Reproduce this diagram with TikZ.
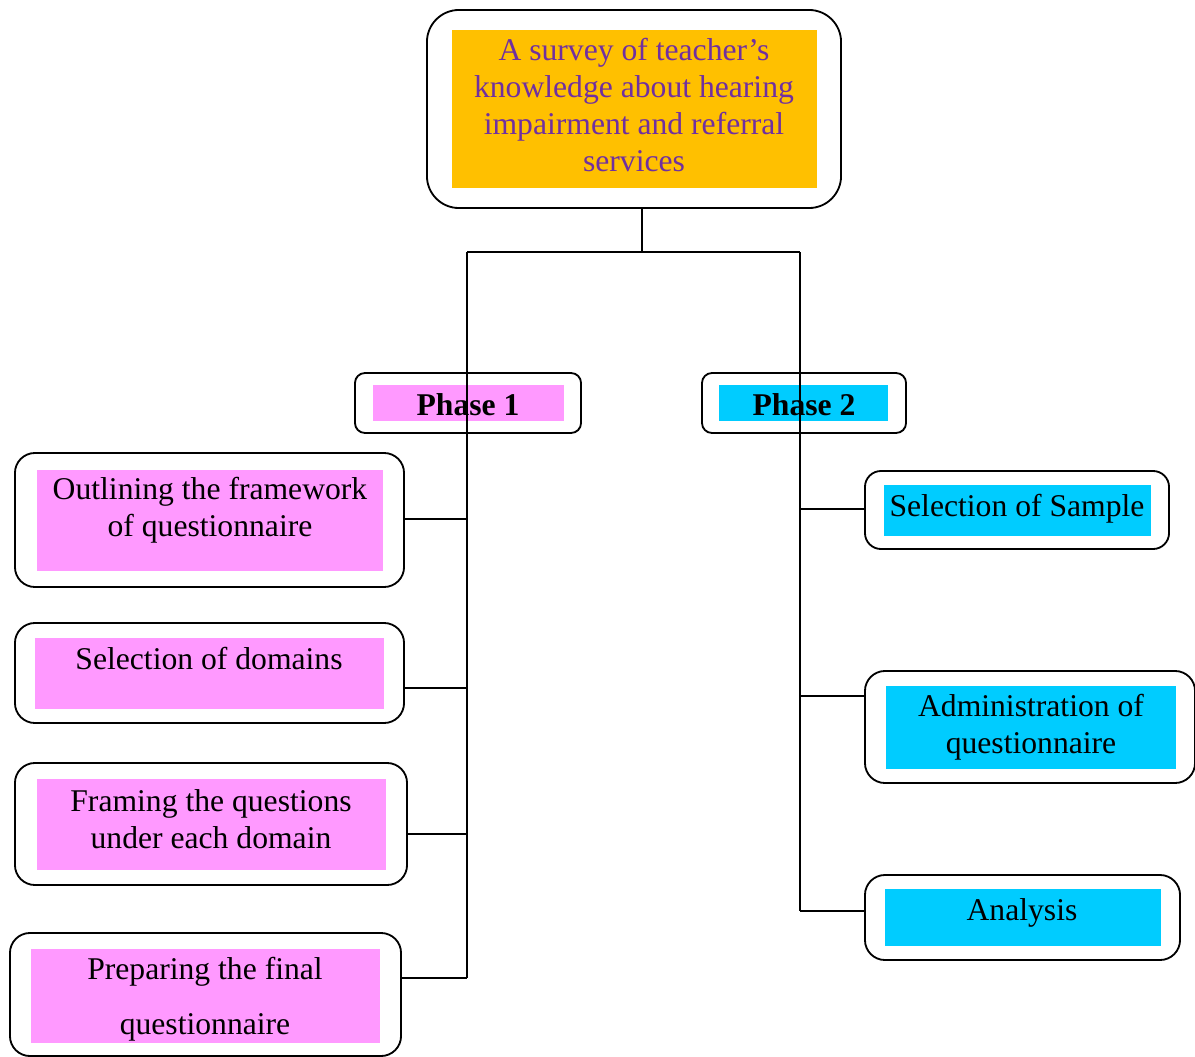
\documentclass[tikz,border=0pt]{standalone}
\usepackage{fontspec}
\setmainfont{Liberation Serif}
\usetikzlibrary{positioning}
\definecolor{titleorange}{HTML}{FFC000}
\definecolor{titlepurple}{HTML}{7030A0}
\definecolor{phasepink}{HTML}{FF99FF}
\definecolor{phasecyan}{HTML}{00CCFF}
\tikzset{
  outerbox/.style={draw, line width=1.3pt, rounded corners=0.5cm, inner sep=0pt},
  fillbox/.style={inner sep=0pt, draw=none},
  label/.style={align=center, inner sep=0pt, font=\fontsize{22.5}{26.5}\selectfont},
  link/.style={line width=1.2pt}
}
\begin{document}
\begin{tikzpicture}[x=0.025cm, y=-0.025cm]
    \useasboundingbox (0,0) rectangle (1195,1057);

    % Title
    \node[outerbox, rounded corners=0.8cm, minimum width=10.35cm, minimum height=4.95cm] (top) at (634,109) {};
    \node[fillbox, fill=titleorange, minimum width=9.125cm, minimum height=3.95cm] (topfill) at (634.5,109) {};
    \node[label, text=titlepurple] (toptext) at (634,105) {A survey of teacher’s\\knowledge about hearing\\impairment and referral\\services};

    % Phases
    \node[outerbox, rounded corners=0.25cm, minimum width=5.65cm, minimum height=1.5cm] (ph1) at (468,403) {};
    \node[fillbox, fill=phasepink, minimum width=4.775cm, minimum height=0.9cm] (ph1fill) at (468.5,403) {};
    \node[label, font=\fontsize{22.5}{26.5}\selectfont\bfseries] (ph1text) at (468,405) {Phase 1};

    \node[outerbox, rounded corners=0.25cm, minimum width=5.1cm, minimum height=1.5cm] (ph2) at (804,403) {};
    \node[fillbox, fill=phasecyan, minimum width=4.225cm, minimum height=0.9cm] (ph2fill) at (803.5,403) {};
    \node[label, font=\fontsize{22.5}{26.5}\selectfont\bfseries] (ph2text) at (804,405) {Phase 2};

    % Phase 1 steps
    \node[outerbox, minimum width=9.725cm, minimum height=3.35cm] (l1) at (209.5,520) {};
    \node[fillbox, fill=phasepink, minimum width=8.65cm, minimum height=2.525cm] (l1fill) at (210,520.5) {};
    \node[label] (l1text) at (210,510.5) {Outlining the framework\\of questionnaire};

    \node[outerbox, minimum width=9.725cm, minimum height=2.5cm] (l2) at (209.5,673) {};
    \node[fillbox, fill=phasepink, minimum width=8.725cm, minimum height=1.775cm] (l2fill) at (209.5,673.5) {};
    \node[label] (l2text) at (209,659) {Selection of domains};

    \node[outerbox, minimum width=9.8cm, minimum height=3.05cm] (l3) at (211,824) {};
    \node[fillbox, fill=phasepink, minimum width=8.725cm, minimum height=2.275cm] (l3fill) at (211.5,824.5) {};
    \node[label] (l3text) at (211,819) {Framing the questions\\under each domain};

    \node[outerbox, minimum width=9.775cm, minimum height=3.075cm] (l4) at (205.5,994.5) {};
    \node[fillbox, fill=phasepink, minimum width=8.725cm, minimum height=2.35cm] (l4fill) at (205.5,996) {};
    \node[label, font=\fontsize{22.5}{39}\selectfont] (l4text) at (205,999) {Preparing the final\\questionnaire};

    % Phase 2 steps
    \node[outerbox, rounded corners=0.4cm, minimum width=7.6cm, minimum height=1.95cm] (r1) at (1017,510) {};
    \node[fillbox, fill=phasecyan, minimum width=6.675cm, minimum height=1.275cm] (r1fill) at (1017.5,510.5) {};
    \node[label] (r1text) at (1017,509) {Selection of Sample};

    \node[outerbox, minimum width=8.25cm, minimum height=2.8cm] (r2) at (1030,727) {};
    \node[fillbox, fill=phasecyan, minimum width=7.25cm, minimum height=2.075cm] (r2fill) at (1031,727.5) {};
    \node[label] (r2text) at (1031,727) {Administration of\\questionnaire};

    \node[outerbox, minimum width=7.875cm, minimum height=2.125cm] (r3) at (1022.5,917.5) {};
    \node[fillbox, fill=phasecyan, minimum width=6.9cm, minimum height=1.425cm] (r3fill) at (1023,917.5) {};
    \node[label] (r3text) at (1022,913) {Analysis};

    % Connectors
    \coordinate (stem) at (642,252);
    \coordinate (lt) at (467,252);
    \coordinate (rt) at (800,252);
    \coordinate (a1) at (467,519);
    \coordinate (a2) at (467,688);
    \coordinate (a3) at (467,834);
    \coordinate (a4) at (467,978);
    \coordinate (b1) at (800,509);
    \coordinate (b2) at (800,696);
    \coordinate (b3) at (800,911);

    \draw[link] (stem |- top.south) -- (stem);
    \draw[link] (lt) -- (rt);
    \draw[link] (lt) -- (a4);
    \draw[link] (rt) -- (b3);

    \draw[link] (l1.east |- a1) -- (a1);
    \draw[link] (l2.east |- a2) -- (a2);
    \draw[link] (l3.east |- a3) -- (a3);
    \draw[link] (l4.east |- a4) -- (a4);

    \draw[link] (b1) -- (b1 -| r1.west);
    \draw[link] (b2) -- (b2 -| r2.west);
    \draw[link] (b3) -- (b3 -| r3.west);
\end{tikzpicture}
\end{document}
